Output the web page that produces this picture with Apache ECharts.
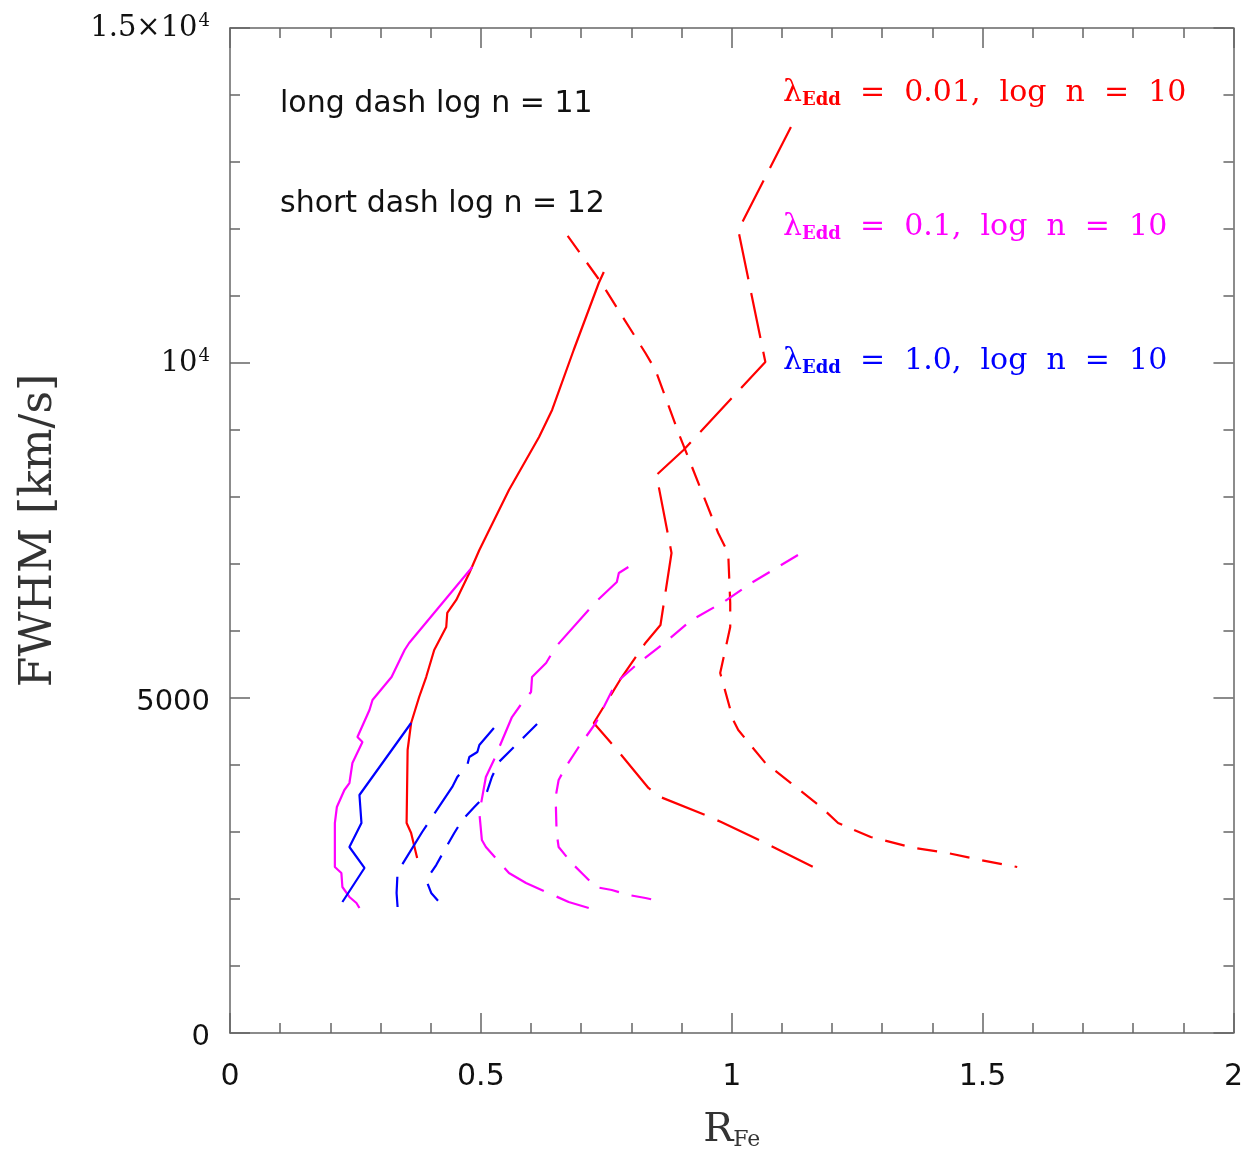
<!DOCTYPE html>
<html>
<head>
<meta charset="utf-8">
<script src="https://cdn.jsdelivr.net/npm/echarts@6/dist/echarts.min.js"></script>
<style>html,body{margin:0;padding:0;background:#fff}#c{width:1246px;height:1157px}</style>
</head>
<body>
<div id="c"></div>
<script>
// ---- data (R_Fe, FWHM km/s) ----
const red_n10 = [[0.373,2612],[0.361,2985],[0.352,3134],[0.354,4224],[0.361,4627],[0.377,5015],[0.391,5313],[0.407,5716],[0.431,6060],[0.433,6269],[0.451,6463],[0.477,6866],[0.497,7209],[0.556,8104],[0.616,8896],[0.642,9299],[0.685,10194],[0.735,11194],[0.745,11358]];
const mag_n10 = [[0.483,6955],[0.357,5821],[0.348,5716],[0.322,5313],[0.284,4970],[0.278,4821],[0.254,4418],[0.264,4343],[0.244,4030],[0.238,3731],[0.228,3627],[0.213,3373],[0.209,3134],[0.209,2478],[0.222,2388],[0.224,2179],[0.238,2030],[0.252,1940],[0.258,1866]];
const blue_n10 = [[0.361,4627],[0.258,3552],[0.262,3134],[0.238,2776],[0.268,2463],[0.224,1955]];
const red_n11 = [[1.118,13522],[1.013,11985],[1.067,10015],[0.904,8701],[0.850,8328],[0.880,7164],[0.858,6089],[0.828,5821],[0.781,5313],[0.725,4627],[0.775,4194],[0.834,3657],[0.858,3522],[0.947,3254],[0.979,3149],[1.067,2836],[1.166,2463]];
const red_n12 = [[0.673,11896],[0.739,11209],[0.828,10149],[0.848,9896],[0.894,8955],[0.973,7463],[0.993,7164],[0.997,6418],[0.997,6060],[0.977,5373],[1.003,4672],[1.013,4522],[1.067,4030],[1.118,3731],[1.178,3373],[1.212,3134],[1.277,2925],[1.364,2761],[1.430,2687],[1.496,2582],[1.569,2478]];
const mag_n11 = [[0.794,6955],[0.775,6866],[0.771,6731],[0.729,6433],[0.649,5761],[0.630,5522],[0.602,5313],[0.600,5090],[0.582,4925],[0.562,4716],[0.526,4075],[0.510,3821],[0.497,3284],[0.502,2881],[0.510,2776],[0.556,2388],[0.590,2239],[0.675,1955],[0.715,1866]];
const mag_n12 = [[1.132,7134],[1.039,6716],[0.987,6448],[0.920,6164],[0.868,5836],[0.814,5522],[0.769,5224],[0.729,4627],[0.695,4269],[0.669,3970],[0.655,3776],[0.649,3522],[0.651,2985],[0.655,2776],[0.681,2537],[0.701,2388],[0.729,2179],[0.761,2134],[0.794,2060],[0.828,2015],[0.864,1955]];
const blue_n11 = [[0.526,4552],[0.497,4298],[0.493,4194],[0.477,4119],[0.473,4000],[0.453,3821],[0.443,3672],[0.403,3224],[0.383,3000],[0.334,2403],[0.332,2090],[0.334,1881]];
const blue_n12 = [[0.612,4612],[0.586,4418],[0.560,4224],[0.536,4045],[0.522,3821],[0.510,3552],[0.487,3373],[0.463,3179],[0.447,2985],[0.431,2776],[0.411,2507],[0.391,2284],[0.401,2090],[0.417,1955]];
const xTicks = [0, 0.5, 1, 1.5, 2];
const yTicks = [0, 5000, 10000, 15000];

const RED = '#ff0000', MAG = '#ff00ff', BLUE = '#0000ff';
const LONG = [46, 14], SHORT = [20, 13];

function ser(data, color, type) {
  return { type: 'line', data: data, showSymbol: false, symbol: 'none', silent: true,
    lineStyle: { color: color, width: 2.2, type: type }, xAxisIndex: 0, yAxisIndex: 0, z: 3 };
}

const axisCol = '#666';
function xa(pos, showLabel) {
  return {
    type: 'value', position: pos, min: xTicks[0], max: xTicks[xTicks.length-1], interval: 0.5,
    axisLine: { show: true, onZero: false, lineStyle: { color: axisCol, width: 1.5 } },
    axisTick: { show: true, inside: true, length: 20, lineStyle: { color: axisCol, width: 1.5 } },
    minorTick: { show: true, splitNumber: 5, length: 10, lineStyle: { color: axisCol, width: 1.5 } },
    splitLine: { show: false },
    axisLabel: { show: showLabel, margin: 29, fontFamily: 'DejaVu Sans', fontSize: 30, color: '#111',
      formatter: v => String(v) }
  };
}
function ya(pos, showLabel) {
  return {
    type: 'value', position: pos, min: yTicks[0], max: yTicks[yTicks.length-1], interval: 5000,
    axisLine: { show: true, onZero: false, lineStyle: { color: axisCol, width: 1.5 } },
    axisTick: { show: true, inside: true, length: 20, lineStyle: { color: axisCol, width: 1.5 } },
    minorTick: { show: true, splitNumber: 5, length: 10, lineStyle: { color: axisCol, width: 1.5 } },
    splitLine: { show: false },
    axisLabel: { show: showLabel, margin: 20, color: '#111',
      formatter: v => v === 10000 ? '{n|10}{s|4}' : (v === 15000 ? '{n|1.5×10}{s|4}' : '{d|' + v + '}'),
      rich: {
        d: { fontFamily: 'DejaVu Sans', fontSize: 29, color: '#111', padding: [8, 0, 0, 0] },
        n: { fontFamily: 'DejaVu Serif', fontSize: 29, color: '#111' },
        s: { fontFamily: 'DejaVu Serif', fontSize: 18, color: '#111', verticalAlign: 'top', padding: [0, 0, 14, 1] }
      }
    }
  };
}

const chart = echarts.init(document.getElementById('c'), null, { renderer: 'canvas' });
const xBottom = xa('bottom', true);
xBottom.name = '{r|R}{f|Fe}';
xBottom.nameLocation = 'middle';
xBottom.nameGap = 78;
xBottom.nameTextStyle = { rich: {
  r: { fontFamily: 'DejaVu Serif', fontSize: 40, color: '#333' },
  f: { fontFamily: 'DejaVu Serif', fontSize: 22, color: '#333', verticalAlign: 'bottom', padding: [16, 0, 0, 0] } } };
const yLeft = ya('left', true);
yLeft.name = 'FWHM [km/s]';
yLeft.nameLocation = 'middle';
yLeft.nameGap = 168;
yLeft.nameTextStyle = { fontFamily: 'DejaVu Serif', fontSize: 44, color: '#333' };

const lamRich = (c) => ({
  l: { fontFamily: 'DejaVu Serif', fontSize: 30, fill: c, color: c },
  e: { fontFamily: 'DejaVu Serif', fontSize: 18, fontWeight: 'bold', fill: c, color: c, verticalAlign: 'bottom', padding: [14, 0, 0, 0] }
});

chart.setOption({
  animation: false,
  grid: { left: 230, top: 28, width: 1007, height: 1005, containLabel: false },
  xAxis: [xBottom, xa('top', false)],
  yAxis: [yLeft, ya('right', false)],
  series: [
    ser(red_n10, RED, 'solid'), ser(mag_n10, MAG, 'solid'), ser(blue_n10, BLUE, 'solid'),
    ser(red_n11, RED, LONG), ser(mag_n11, MAG, LONG), ser(blue_n11, BLUE, LONG),
    ser(red_n12, RED, SHORT), ser(mag_n12, MAG, SHORT), ser(blue_n12, BLUE, SHORT)
  ],
  graphic: [
    { type: 'text', left: 280, top: 89, style: { text: 'long dash log n = 11', font: '30px "DejaVu Sans"', fill: '#111' } },
    { type: 'text', left: 280, top: 189, style: { text: 'short dash log n = 12', font: '30px "DejaVu Sans"', fill: '#111' } },
    { type: 'text', left: 783, top: 78, style: { text: '{l|λ}{e|Edd}{l|  =  0.01,  log  n  =  10}', rich: lamRich(RED), fill: RED } },
    { type: 'text', left: 783, top: 212, style: { text: '{l|λ}{e|Edd}{l|  =  0.1,  log  n  =  10}', rich: lamRich(MAG), fill: MAG } },
    { type: 'text', left: 783, top: 346, style: { text: '{l|λ}{e|Edd}{l|  =  1.0,  log  n  =  10}', rich: lamRich(BLUE), fill: BLUE } }
  ]
});
</script>
</body>
</html>
